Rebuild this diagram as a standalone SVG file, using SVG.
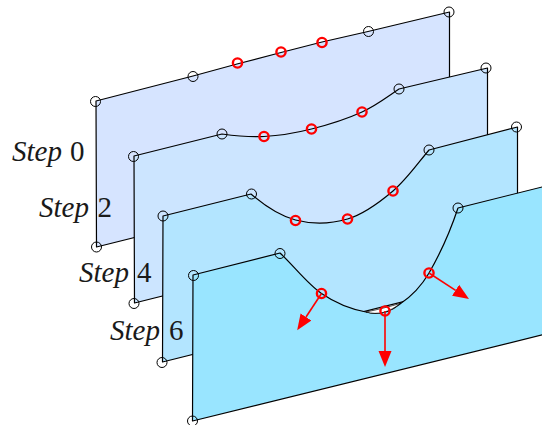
<svg xmlns="http://www.w3.org/2000/svg" width="542" height="425" viewBox="0 0 542 425">
<style>
.plane{stroke:#000;stroke-width:1.2;stroke-linejoin:round}
.ctl{fill:none;stroke:#000;stroke-width:1}
.act{fill:none;stroke:#f00;stroke-width:2.400}
.lbl{font-family:"Liberation Serif",serif;font-size:29px;fill:#1a1a1a}
.it{font-style:italic}
.arrow{stroke:#f00;stroke-width:1.600;fill:none;marker-end:url(#head)}
</style>
<defs>
<marker id="head" markerUnits="userSpaceOnUse" markerWidth="18" markerHeight="16" refX="0" refY="8" orient="auto">
<path d="M0 1.500L16 8L0 14.500Z" fill="#f00"/>
</marker>
</defs>
<rect width="542" height="425" fill="#fff"/>
<g id="step0">
<path class="plane" fill="#d6e4ff" d="M96 101L193 76L237 64L281 52.500L322 42L368 31.500L449.500 12V158.500L96.500 247Z"/>
<circle class="ctl" cx="95.500" cy="101.500" r="5"/><circle class="ctl" cx="193" cy="76.500" r="5"/><circle class="ctl" cx="368.500" cy="31.500" r="5"/><circle class="ctl" cx="449" cy="12" r="5"/><circle class="ctl" cx="96.500" cy="247" r="5"/>
<circle class="act" cx="237.500" cy="63" r="4.600"/><circle class="act" cx="281" cy="52" r="4.600"/><circle class="act" cx="322" cy="42.500" r="4.600"/>
<text class="lbl" y="161"><tspan class="it" x="12">Step</tspan><tspan x="70">0</tspan></text>
</g>
<g id="step2">
<path class="plane" fill="#cce5ff" d="M134 156L222 134C236 136 249 137.300 264 136.500C278.900 135.700 295.200 133.100 311.500 129C327.800 124.900 347.400 118.700 362 112C376.600 105.300 387 97 399 89L487.500 68V215L134.500 303Z"/>
<circle class="ctl" cx="133.500" cy="156.500" r="5"/><circle class="ctl" cx="222" cy="134" r="5"/><circle class="ctl" cx="399" cy="89" r="5"/><circle class="ctl" cx="486" cy="68" r="5"/><circle class="ctl" cx="134" cy="303.500" r="5"/>
<circle class="act" cx="264" cy="136.500" r="4.600"/><circle class="act" cx="311.500" cy="129" r="4.600"/><circle class="act" cx="362" cy="112" r="4.600"/>
<text class="lbl" y="217"><tspan class="it" x="39">Step</tspan><tspan x="97.500">2</tspan></text>
</g>
<g id="step4">
<path class="plane" fill="#b3e5ff" d="M163 216L251 194C265 206 279.400 215.800 295.500 220C311.600 224.200 331.200 223.800 347.500 219C363.800 214.200 379.400 202.500 393 191C406.600 179.500 418 163 429 150L517.500 127V273L162.500 362Z"/>
<circle class="ctl" cx="163" cy="216" r="5"/><circle class="ctl" cx="251.500" cy="194" r="5"/><circle class="ctl" cx="429" cy="150" r="5"/><circle class="ctl" cx="516.500" cy="127" r="5"/><circle class="ctl" cx="162" cy="362.500" r="5"/>
<circle class="act" cx="295.500" cy="220.500" r="4.600"/><circle class="act" cx="347.500" cy="219" r="4.600"/><circle class="act" cx="393" cy="191" r="4.600"/>
<text class="lbl" y="282"><tspan class="it" x="79">Step</tspan><tspan x="137">4</tspan></text>
</g>
<g id="step6">
<path class="plane" fill="#99e5ff" d="M193 275L280 253C294 266 307.200 283.700 321.500 293.500C335.800 303.300 350 309 366 312C378 315.500 390 312 400 304C412 296 422 285 429 273C440 254 450 232 458 208L546 186V334L192.500 421Z"/>
<path d="M366 312C378 309.500 390 306.500 400 303.500C390 312 378 315.500 366 312Z" fill="#fff" stroke="#000" stroke-width=".7"/>
<circle class="ctl" cx="193.500" cy="275.500" r="5"/><circle class="ctl" cx="280" cy="253.500" r="5"/><circle class="ctl" cx="458" cy="208" r="5"/><circle class="ctl" cx="192.500" cy="421" r="5"/>
<text class="lbl" y="340"><tspan class="it" x="110">Step</tspan><tspan x="169">6</tspan></text>
</g>
<g id="connectors">
<line class="arrow" x1="321.500" y1="293.500" x2="306" y2="317"/>
<line class="arrow" x1="385" y1="311" x2="385" y2="351"/>
<line class="arrow" x1="429" y1="273" x2="455.600" y2="290.300"/>
</g>
<g id="active6">
<circle class="act" cx="321.500" cy="293.500" r="4.600"/><circle class="act" cx="385" cy="311" r="4.600"/><circle class="act" cx="429" cy="273" r="4.600"/>
</g>
</svg>
